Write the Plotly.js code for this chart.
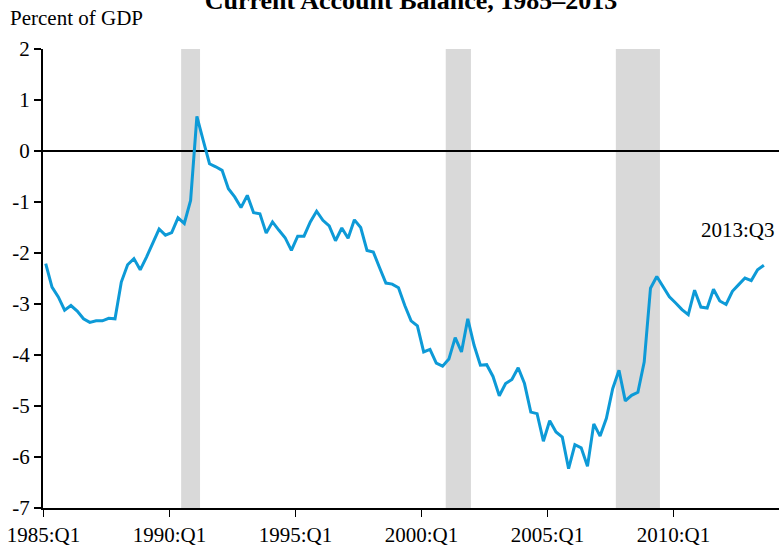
<!DOCTYPE html>
<html>
<head>
<meta charset="utf-8">
<script src="https://cdn.plot.ly/plotly-3.0.1.min.js"></script>
<style>html,body{margin:0;padding:0;background:#fff;}#chart{width:782px;height:549px;}</style>
</head>
<body>
<div id="chart"></div>
<script>
// Quarters 1985:Q1 .. 2013:Q3
var startYear = 1985;
var quarters = [];
for (var i = 0; i < 115; i++) {
  quarters.push((startYear + Math.floor(i / 4)) + ':Q' + (i % 4 + 1));
}
// Current account balance, percent of GDP
var balance = [
  -2.21, -2.67, -2.86, -3.12, -3.03, -3.14, -3.29, -3.36, -3.33, -3.33,
  -3.28, -3.29, -2.57, -2.23, -2.11, -2.33, -2.08, -1.82, -1.53, -1.65,
  -1.60, -1.31, -1.42, -0.97,  0.68,  0.21, -0.25, -0.31, -0.38, -0.74,
  -0.90, -1.11, -0.87, -1.21, -1.23, -1.61, -1.39, -1.55, -1.70, -1.95,
  -1.67, -1.67, -1.39, -1.18, -1.36, -1.47, -1.76, -1.51, -1.71, -1.35,
  -1.50, -1.95, -1.98, -2.29, -2.59, -2.61, -2.68, -3.03, -3.33, -3.43,
  -3.94, -3.89, -4.16, -4.22, -4.08, -3.66, -3.94, -3.29, -3.81, -4.20,
  -4.19, -4.42, -4.80, -4.56, -4.48, -4.25, -4.56, -5.12, -5.15, -5.69,
  -5.29, -5.51, -5.61, -6.23, -5.76, -5.82, -6.18, -5.35, -5.59, -5.24,
  -4.66, -4.30, -4.90, -4.79, -4.73, -4.14, -2.69, -2.46, -2.65, -2.86,
  -2.98, -3.11, -3.21, -2.73, -3.06, -3.08, -2.71, -2.94, -3.01, -2.75,
  -2.62, -2.49, -2.54, -2.33, -2.24
];
// Recessions (first and last quarter)
var recessionStart = ['1990:Q3', '2001:Q1', '2007:Q4'];
var recessionEnd   = ['1991:Q1', '2001:Q4', '2009:Q2'];
// Tick labels
var tickLabels = ['1985:Q1', '1990:Q1', '1995:Q1', '2000:Q1', '2005:Q1', '2010:Q1'];
var yTicks = [-7, -6, -5, -4, -3, -2, -1, 0, 1, 2];

var idx = quarters.map(function (q, i) { return i; });
var tickShift = 0.35; // ticks mark start of quarter
var tickVals = tickLabels.map(function (t) { return quarters.indexOf(t) - tickShift; });

var shapes = recessionStart.map(function (s, k) {
  return {
    type: 'rect', xref: 'x', yref: 'paper', layer: 'below',
    x0: quarters.indexOf(s) - 0.5, x1: quarters.indexOf(recessionEnd[k]) + 0.5,
    y0: 0, y1: 1, fillcolor: '#d9d9d9', line: { width: 0 }
  };
});

var serif = '"Liberation Serif", "Times New Roman", serif';
var last = quarters.length - 1;

var trace = {
  x: idx, y: balance, type: 'scatter', mode: 'lines',
  line: { color: '#0d9ad7', width: 3 },
  text: quarters, hoverinfo: 'text+y'
};

var layout = {
  width: 782, height: 549,
  margin: { l: 43, r: 3, t: 49, b: 41 },
  paper_bgcolor: '#fff', plot_bgcolor: '#fff',
  showlegend: false,
  title: {
    text: '<b>Current Account Balance, 1985–2013</b>',
    font: { family: serif, size: 26, color: '#000' },
    x: 0.5, xref: 'paper', y: 1, yref: 'container', yanchor: 'middle'
  },
  xaxis: {
    range: [-tickShift - 0.08, 116.4],
    tickvals: tickVals, ticktext: tickLabels,
    ticks: 'outside', ticklen: 7, tickwidth: 1.5, tickcolor: '#000',
    showline: true, linecolor: '#000', linewidth: 2,
    showgrid: false, zeroline: false,
    tickfont: { family: serif, size: 21, color: '#000' }
  },
  yaxis: {
    range: [-7, 2], tickvals: yTicks,
    ticktext: yTicks.map(function (v) { return v < 0 ? '-' + Math.abs(v) : String(v); }),
    ticks: 'outside', ticklen: 7, tickwidth: 1.5, tickcolor: '#000',
    showline: true, linecolor: '#000', linewidth: 2,
    showgrid: false, zeroline: true, zerolinecolor: '#000', zerolinewidth: 1.5,
    tickfont: { family: serif, size: 21, color: '#000' }
  },
  shapes: shapes,
  annotations: [
    {
      text: 'Percent of GDP', xref: 'paper', yref: 'paper',
      x: -0.048, y: 1.067, xanchor: 'left', yanchor: 'middle',
      showarrow: false, font: { family: serif, size: 21, color: '#000' }
    },
    {
      text: quarters[last], xref: 'x', yref: 'y',
      x: last, y: -1.55, xanchor: 'right', xshift: 13, yanchor: 'middle',
      showarrow: false, font: { family: serif, size: 21, color: '#000' }
    }
  ]
};

Plotly.newPlot('chart', [trace], layout, { displayModeBar: false, staticPlot: true });
</script>
</body>
</html>
